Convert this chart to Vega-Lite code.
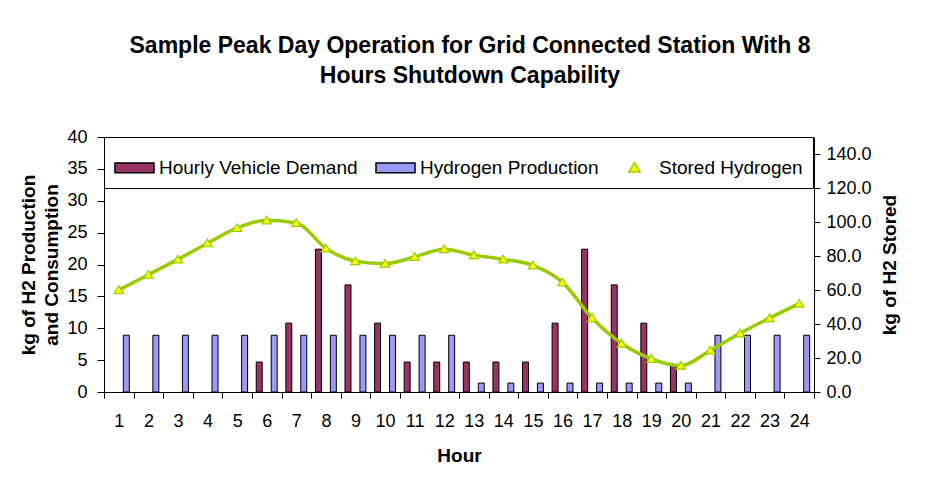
{
  "$schema": "https://vega.github.io/schema/vega-lite/v6.json",
  "autosize": {"type": "none"},
  "width": 710,
  "height": 255,
  "padding": {"left": 104, "top": 137, "right": 120, "bottom": 104},
  "background": "white",
  "config": {
    "font": "Liberation Sans",
    "view": {"stroke": null},
    "axis": {"domainColor": "black", "tickColor": "black", "labelColor": "black", "titleColor": "black", "labelFont": "Liberation Sans", "titleFont": "Liberation Sans", "labelFontSize": 18, "titleFontSize": 19, "titleFontWeight": "bold", "grid": false, "labelOverlap": false},
    "legend": {
      "orient": "none",
      "legendX": 0,
      "legendY": 0,
      "direction": "horizontal",
      "padding": 10,
      "strokeColor": "black",
      "fillColor": "white",
      "symbolSize": 1521,
      "symbolStrokeWidth": 1.5,
      "symbolOpacity": 1,
      "labelFontSize": 19,
      "labelFont": "Liberation Sans",
      "labelColor": "black",
      "labelLimit": 400,
      "columnPadding": 15,
      "labelOffset": 4
    }
  },
  "title": {
    "text": ["Sample Peak Day Operation for Grid Connected Station With 8", "Hours Shutdown Capability"],
    "fontSize": 23,
    "fontWeight": "bold",
    "font": "Liberation Sans",
    "color": "black",
    "frame": "group",
    "anchor": "middle",
    "dx": 11,
    "lineHeight": 30,
    "offset": 40
  },
  "datasets": {
    "bars": [
      {"hour": 1, "series": "Hourly Vehicle Demand", "kg": 0}, {"hour": 1, "series": "Hydrogen Production", "kg": 8.9},
      {"hour": 2, "series": "Hourly Vehicle Demand", "kg": 0}, {"hour": 2, "series": "Hydrogen Production", "kg": 8.9},
      {"hour": 3, "series": "Hourly Vehicle Demand", "kg": 0}, {"hour": 3, "series": "Hydrogen Production", "kg": 8.9},
      {"hour": 4, "series": "Hourly Vehicle Demand", "kg": 0}, {"hour": 4, "series": "Hydrogen Production", "kg": 8.9},
      {"hour": 5, "series": "Hourly Vehicle Demand", "kg": 0}, {"hour": 5, "series": "Hydrogen Production", "kg": 8.9},
      {"hour": 6, "series": "Hourly Vehicle Demand", "kg": 4.7}, {"hour": 6, "series": "Hydrogen Production", "kg": 8.9},
      {"hour": 7, "series": "Hourly Vehicle Demand", "kg": 10.8}, {"hour": 7, "series": "Hydrogen Production", "kg": 8.9},
      {"hour": 8, "series": "Hourly Vehicle Demand", "kg": 22.4}, {"hour": 8, "series": "Hydrogen Production", "kg": 8.9},
      {"hour": 9, "series": "Hourly Vehicle Demand", "kg": 16.8}, {"hour": 9, "series": "Hydrogen Production", "kg": 8.9},
      {"hour": 10, "series": "Hourly Vehicle Demand", "kg": 10.8}, {"hour": 10, "series": "Hydrogen Production", "kg": 8.9},
      {"hour": 11, "series": "Hourly Vehicle Demand", "kg": 4.7}, {"hour": 11, "series": "Hydrogen Production", "kg": 8.9},
      {"hour": 12, "series": "Hourly Vehicle Demand", "kg": 4.7}, {"hour": 12, "series": "Hydrogen Production", "kg": 8.9},
      {"hour": 13, "series": "Hourly Vehicle Demand", "kg": 4.7}, {"hour": 13, "series": "Hydrogen Production", "kg": 1.4},
      {"hour": 14, "series": "Hourly Vehicle Demand", "kg": 4.7}, {"hour": 14, "series": "Hydrogen Production", "kg": 1.4},
      {"hour": 15, "series": "Hourly Vehicle Demand", "kg": 4.7}, {"hour": 15, "series": "Hydrogen Production", "kg": 1.4},
      {"hour": 16, "series": "Hourly Vehicle Demand", "kg": 10.8}, {"hour": 16, "series": "Hydrogen Production", "kg": 1.4},
      {"hour": 17, "series": "Hourly Vehicle Demand", "kg": 22.4}, {"hour": 17, "series": "Hydrogen Production", "kg": 1.4},
      {"hour": 18, "series": "Hourly Vehicle Demand", "kg": 16.8}, {"hour": 18, "series": "Hydrogen Production", "kg": 1.4},
      {"hour": 19, "series": "Hourly Vehicle Demand", "kg": 10.8}, {"hour": 19, "series": "Hydrogen Production", "kg": 1.4},
      {"hour": 20, "series": "Hourly Vehicle Demand", "kg": 4.1}, {"hour": 20, "series": "Hydrogen Production", "kg": 1.4},
      {"hour": 21, "series": "Hourly Vehicle Demand", "kg": 0}, {"hour": 21, "series": "Hydrogen Production", "kg": 8.9},
      {"hour": 22, "series": "Hourly Vehicle Demand", "kg": 0}, {"hour": 22, "series": "Hydrogen Production", "kg": 8.9},
      {"hour": 23, "series": "Hourly Vehicle Demand", "kg": 0}, {"hour": 23, "series": "Hydrogen Production", "kg": 8.9},
      {"hour": 24, "series": "Hourly Vehicle Demand", "kg": 0}, {"hour": 24, "series": "Hydrogen Production", "kg": 8.9}
    ],
    "stored": [
      {"hour": 1, "series": "Stored Hydrogen", "stored": 60}, {"hour": 2, "series": "Stored Hydrogen", "stored": 69},
      {"hour": 3, "series": "Stored Hydrogen", "stored": 78}, {"hour": 4, "series": "Stored Hydrogen", "stored": 87.5},
      {"hour": 5, "series": "Stored Hydrogen", "stored": 96.5}, {"hour": 6, "series": "Stored Hydrogen", "stored": 101},
      {"hour": 7, "series": "Stored Hydrogen", "stored": 99.5}, {"hour": 8, "series": "Stored Hydrogen", "stored": 84.5},
      {"hour": 9, "series": "Stored Hydrogen", "stored": 77}, {"hour": 10, "series": "Stored Hydrogen", "stored": 75.5},
      {"hour": 11, "series": "Stored Hydrogen", "stored": 79.5}, {"hour": 12, "series": "Stored Hydrogen", "stored": 84},
      {"hour": 13, "series": "Stored Hydrogen", "stored": 80.5}, {"hour": 14, "series": "Stored Hydrogen", "stored": 78},
      {"hour": 15, "series": "Stored Hydrogen", "stored": 74.5}, {"hour": 16, "series": "Stored Hydrogen", "stored": 64.5},
      {"hour": 17, "series": "Stored Hydrogen", "stored": 43.5}, {"hour": 18, "series": "Stored Hydrogen", "stored": 28.5},
      {"hour": 19, "series": "Stored Hydrogen", "stored": 19.5}, {"hour": 20, "series": "Stored Hydrogen", "stored": 15.5},
      {"hour": 21, "series": "Stored Hydrogen", "stored": 24.5}, {"hour": 22, "series": "Stored Hydrogen", "stored": 34.5},
      {"hour": 23, "series": "Stored Hydrogen", "stored": 43.5}, {"hour": 24, "series": "Stored Hydrogen", "stored": 52}
    ]
  },
  "layer": [
    {
      "data": {"name": "bars"},
      "transform": [{"filter": "datum.kg > 0"}],
      "mark": {"type": "bar", "stroke": "black", "strokeWidth": 1},
      "encoding": {
        "x": {
          "field": "hour", "type": "ordinal",
          "scale": {"paddingInner": 0, "paddingOuter": 0},
          "axis": {"title": "Hour", "labelAngle": 0, "tickBand": "extent", "tickSize": 6, "labelPadding": 14, "titlePadding": 16}
        },
        "xOffset": {
          "field": "series", "type": "nominal",
          "scale": {"domain": ["Hourly Vehicle Demand", "Hydrogen Production"], "paddingInner": 0.6, "paddingOuter": 0.29}
        },
        "y": {
          "field": "kg", "type": "quantitative",
          "scale": {"domain": [0, 40], "nice": false},
          "axis": {"title": ["kg of H2 Production", "and Consumption"], "values": [0, 5, 10, 15, 20, 25, 30, 35, 40], "tickSize": 7, "labelPadding": 10, "titlePadding": 5, "titleLineHeight": 23}
        },
        "color": {
          "field": "series", "type": "nominal",
          "scale": {"domain": ["Hourly Vehicle Demand", "Hydrogen Production", "Stored Hydrogen"], "range": ["#993366", "#9999FF", "#FFFF00"]},
          "legend": {"title": null}
        }
      }
    },
    {
      "data": {"name": "stored"},
      "layer": [
        {
          "mark": {"type": "line", "strokeWidth": 3.5, "interpolate": "monotone", "color": "#99CC00"},
          "encoding": {
            "x": {"field": "hour", "type": "ordinal"},
            "y": {
              "field": "stored", "type": "quantitative",
              "scale": {"domain": [0, 150], "nice": false},
              "axis": {"orient": "right", "title": "kg of H2 Stored", "values": [0, 20, 40, 60, 80, 100, 120, 140], "format": ".1f", "tickSize": 6, "labelPadding": 6, "titlePadding": 28, "titleAngle": 270}
            }
          }
        },
        {
          "mark": {"type": "point", "filled": true, "size": 1024, "strokeWidth": 1.2, "opacity": 1},
          "encoding": {
            "x": {"field": "hour", "type": "ordinal"},
            "y": {
              "field": "stored", "type": "quantitative",
              "axis": {"orient": "right", "title": "kg of H2 Stored", "values": [0, 20, 40, 60, 80, 100, 120, 140], "format": ".1f", "tickSize": 6, "labelPadding": 6, "titlePadding": 28, "titleAngle": 270}
            },
            "color": {"field": "series", "type": "nominal", "legend": {"title": null}},
            "shape": {
              "field": "series", "type": "nominal",
              "scale": {"domain": ["Hourly Vehicle Demand", "Hydrogen Production", "Stored Hydrogen"], "range": ["M-1,-0.25H1V0.25H-1Z", "M-1,-0.25H1V0.25H-1Z", "M0,-0.26L0.29,0.22H-0.29Z"]},
              "legend": {"title": null}
            },
            "stroke": {
              "field": "series", "type": "nominal",
              "scale": {"domain": ["Hourly Vehicle Demand", "Hydrogen Production", "Stored Hydrogen"], "range": ["#000000", "#000000", "#99CC00"]},
              "legend": {"title": null}
            }
          }
        }
      ]
    }
  ],
  "resolve": {"scale": {"y": "independent"}}
}
